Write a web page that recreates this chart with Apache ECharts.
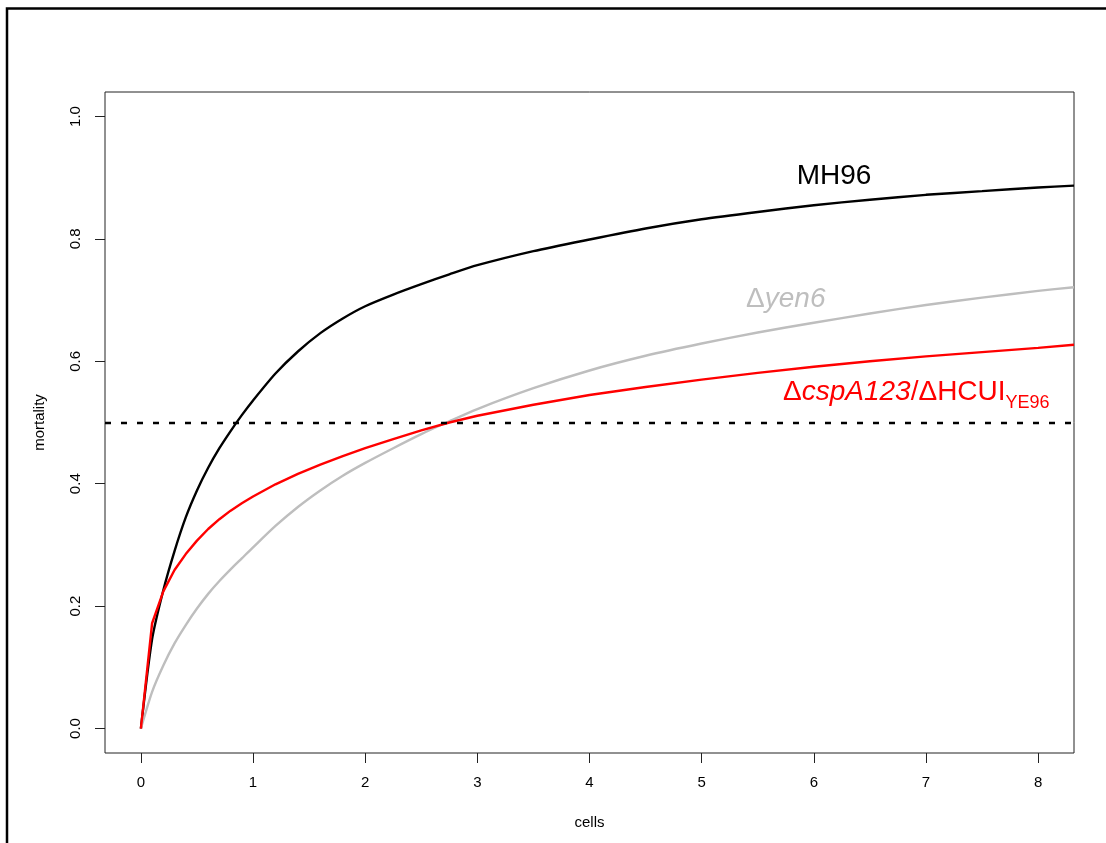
<!DOCTYPE html>
<html>
<head>
<meta charset="utf-8">
<script src="https://cdn.jsdelivr.net/npm/echarts@6/dist/echarts.min.js"></script>
<style>
  html, body { margin: 0; padding: 0; background: #ffffff; }
  #chart { width: 1106px; height: 843px; }
</style>
</head>
<body>
<div id="chart"></div>
<script>
// Cell counts at which each mortality curve is sampled
const cells = [0, 0.1, 0.2, 0.3, 0.4, 0.5, 0.6, 0.7, 0.8, 0.9, 1.0, 1.2, 1.4, 1.6, 1.8, 2.0,
               2.25, 2.5, 2.75, 3.0, 3.5, 4.0, 4.5, 5.0, 5.5, 6.0, 6.5, 7.0, 7.5, 8.0, 8.32];

// Mortality per strain at those cell counts
const mortalityMH96 = [0, 0.146, 0.226, 0.290, 0.345, 0.389, 0.426, 0.458, 0.486, 0.512, 0.536,
                       0.580, 0.616, 0.646, 0.670, 0.690, 0.709, 0.726, 0.742, 0.757, 0.780,
                       0.799, 0.817, 0.832, 0.844, 0.855, 0.864, 0.872, 0.878, 0.884, 0.887];
const mortalityYen6 = [0, 0.060, 0.103, 0.139, 0.169, 0.196, 0.220, 0.241, 0.260, 0.278, 0.296,
                       0.331, 0.362, 0.389, 0.413, 0.434, 0.458, 0.481, 0.502, 0.522, 0.556,
                       0.585, 0.609, 0.629, 0.647, 0.663, 0.678, 0.692, 0.704, 0.715, 0.721];
const mortalityCspA = [0, 0.172, 0.224, 0.259, 0.285, 0.307, 0.326, 0.342, 0.356, 0.368, 0.379,
                       0.399, 0.416, 0.431, 0.445, 0.458, 0.473, 0.487, 0.500, 0.511, 0.529,
                       0.545, 0.558, 0.570, 0.581, 0.591, 0.600, 0.608, 0.615, 0.622, 0.627];

// Reference level (50 % mortality)
const halfMortality = 0.5;

// Axis ticks and their labels
const xTicks = [0, 1, 2, 3, 4, 5, 6, 7, 8];
const xTickLabels = ['0', '1', '2', '3', '4', '5', '6', '7', '8'];
const yTicks = [0, 0.2, 0.4, 0.6, 0.8, 1.0];
const yTickLabels = ['0.0', '0.2', '0.4', '0.6', '0.8', '1.0'];

const FONT = '"Liberation Sans", Arial, Helvetica, sans-serif';
const AXIS_COLOR = '#222222';

function pairs(xs, ys) {
  return xs.map((x, i) => [x, ys[i]]);
}
function labelFor(ticks, labels) {
  return function (v) {
    const i = ticks.findIndex(t => Math.abs(t - v) < 1e-9);
    return i >= 0 ? labels[i] : '';
  };
}

const chart = echarts.init(document.getElementById('chart'), null, { renderer: 'canvas' });

const option = {
  animation: false,
  backgroundColor: '#ffffff',
  textStyle: { fontFamily: FONT },
  grid: {
    left: 105, top: 92, width: 969, height: 661,
    show: true, borderColor: AXIS_COLOR, borderWidth: 1, backgroundColor: 'transparent',
    containLabel: false, outerBoundsMode: 'none'
  },
  xAxis: {
    type: 'value',
    min: -0.32, max: 8.32,
    name: 'cells',
    nameLocation: 'middle',
    nameGap: 62,
    nameTextStyle: { color: '#000', fontSize: 15, fontFamily: FONT },
    axisLine: { show: false, onZero: false },
    splitLine: { show: false },
    axisTick: {
      show: true, inside: false, length: 10,
      customValues: xTicks,
      lineStyle: { color: AXIS_COLOR, width: 1 }
    },
    axisLabel: {
      show: true, margin: 22,
      customValues: xTicks,
      formatter: labelFor(xTicks, xTickLabels),
      color: '#000', fontSize: 15, fontFamily: FONT
    }
  },
  yAxis: {
    type: 'value',
    min: -0.04, max: 1.04,
    name: 'mortality',
    nameLocation: 'middle',
    nameRotate: 90,
    nameGap: 58,
    nameTextStyle: { color: '#000', fontSize: 15, fontFamily: FONT },
    axisLine: { show: false, onZero: false },
    splitLine: { show: false },
    axisTick: {
      show: true, inside: false, length: 10,
      customValues: yTicks,
      lineStyle: { color: AXIS_COLOR, width: 1 }
    },
    axisLabel: {
      show: true, margin: 22, rotate: 90,
      customValues: yTicks,
      formatter: labelFor(yTicks, yTickLabels),
      color: '#000', fontSize: 15, fontFamily: FONT
    }
  },
  series: [
    {
      name: 'MH96',
      type: 'line',
      data: pairs(cells, mortalityMH96),
      showSymbol: false,
      smooth: 0.25,
      clip: true,
      lineStyle: { color: '#000000', width: 2.4 },
      markLine: {
        silent: true,
        symbol: 'none',
        label: { show: false },
        lineStyle: { color: '#000000', width: 2.4, type: [6, 10] },
        data: [{ yAxis: halfMortality }]
      }
    },
    {
      name: 'yen6',
      type: 'line',
      data: pairs(cells, mortalityYen6),
      showSymbol: false,
      smooth: 0.25,
      clip: true,
      lineStyle: { color: '#bebebe', width: 2.4 }
    },
    {
      name: 'cspA123',
      type: 'line',
      data: pairs(cells, mortalityCspA),
      showSymbol: false,
      clip: true,
      lineStyle: { color: '#ff0000', width: 2.4 }
    }
  ]
};

chart.setOption(option);

// Curve annotations, anchored in data coordinates
const px = (x, y) => chart.convertToPixel({ gridIndex: 0 }, [x, y]);
const pMH = px(6.18, 0.903);
const pYen = px(5.75, 0.702);
const pCsp = px(7.71, 0.550);
const pSub = px(7.71, 0.532);

chart.setOption({
  graphic: [
    {
      // page frame
      type: 'polyline',
      silent: true,
      shape: { points: [[7, 843], [7, 8.5], [1106, 8.5]] },
      style: { stroke: '#000', lineWidth: 2.5, fill: null }
    },
    {
      type: 'text', x: pMH[0], y: pMH[1], silent: true,
      style: {
        text: 'MH96', fill: '#000', align: 'center', verticalAlign: 'middle',
        font: '28px ' + FONT
      }
    },
    {
      type: 'text', x: pYen[0], y: pYen[1], silent: true,
      style: {
        text: '{n|Δ}{i|yen6}', fill: '#bebebe', align: 'center', verticalAlign: 'middle',
        font: '28px ' + FONT,
        rich: {
          n: { fontSize: 28, fontFamily: FONT, fill: '#bebebe' },
          i: { fontSize: 28, fontFamily: FONT, fontStyle: 'italic', fill: '#bebebe' }
        }
      }
    },
    {
      type: 'text', x: pCsp[0], y: pCsp[1], silent: true,
      style: {
        text: '{n|Δ}{i|cspA123}{n|/ΔHCUI}', fill: '#ff0000', align: 'right', verticalAlign: 'middle',
        font: '28px ' + FONT,
        rich: {
          n: { fontSize: 28, fontFamily: FONT, fill: '#ff0000' },
          i: { fontSize: 28, fontFamily: FONT, fontStyle: 'italic', fill: '#ff0000' }
        }
      }
    },
    {
      type: 'text', x: pSub[0], y: pSub[1], silent: true,
      style: {
        text: 'YE96', fill: '#ff0000', align: 'left', verticalAlign: 'middle',
        font: '18px ' + FONT
      }
    }
  ]
});
</script>
</body>
</html>
